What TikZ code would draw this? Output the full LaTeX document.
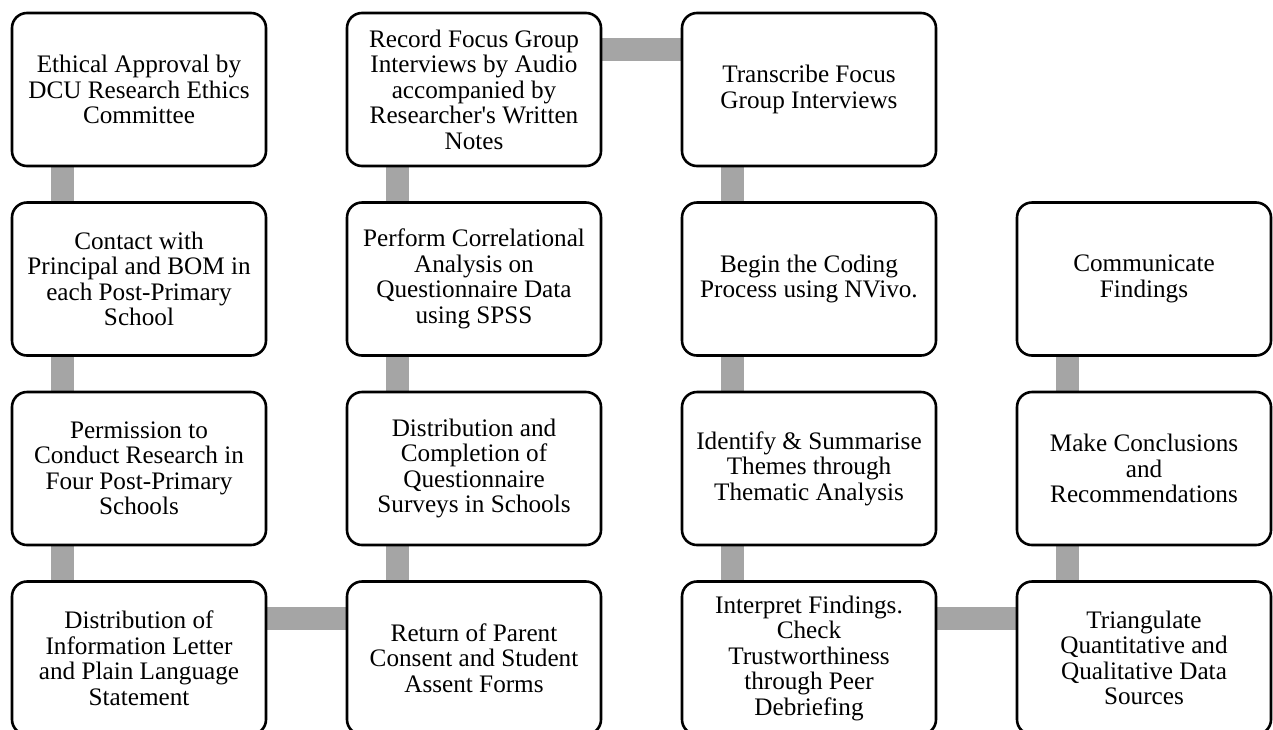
\documentclass[tikz,border=0pt]{standalone}
\usepackage{fontspec}
\setmainfont{Liberation Serif}
\usetikzlibrary{backgrounds}
\definecolor{linkgray}{HTML}{A5A5A5}
\tikzset{
  stepbox/.style={draw=black, line width=2.6pt, fill=white, rounded corners=15pt,
    minimum width=254pt, minimum height=153pt, inner sep=0pt, align=center,
    font=\fontsize{25.2}{25.5}\selectfont},
  link/.style={draw=linkgray, line width=23pt, line cap=butt}
}
\begin{document}
\begin{tikzpicture}[x=1pt, y=-1pt]
\useasboundingbox (0,0) rectangle (1273,729);
\clip (0,0) rectangle (1273,729);

% column 1
\node[stepbox] (a1) at (139,89.5) {Ethical Approval by\\DCU Research Ethics\\Committee};
\node[stepbox] (a2) at (139,279) {Contact with\\Principal and BOM in\\each Post-Primary\\School};
\node[stepbox] (a3) at (139,468.5) {Permission to\\Conduct Research in\\Four Post-Primary\\Schools};
\node[stepbox] (a4) at (139,658) {Distribution of\\Information Letter\\and Plain Language\\Statement};

% column 2
\node[stepbox] (b1) at (474,89.5) {Record Focus Group\\Interviews by Audio\\accompanied by\\Researcher\textquotesingle s Written\\Notes};
\node[stepbox] (b2) at (474,279) {Perform Correlational\\Analysis on\\Questionnaire Data\\using SPSS};
\node[stepbox] (b3) at (474,468.5) {Distribution and\\Completion of\\Questionnaire\\Surveys in Schools};
\node[stepbox] (b4) at (474,658) {Return of Parent\\Consent and Student\\Assent Forms};

% column 3
\node[stepbox] (c1) at (809,89.5) {Transcribe Focus\\Group Interviews};
\node[stepbox] (c2) at (809,279) {Begin the Coding\\Process using NVivo.};
\node[stepbox] (c3) at (809,468.5) {Identify \& Summarise\\Themes through\\Thematic Analysis};
\node[stepbox] (c4) at (809,658) {Interpret Findings.\\Check\\Trustworthiness\\through Peer\\Debriefing};

% column 4
\node[stepbox] (d2) at (1144,279) {Communicate\\Findings};
\node[stepbox] (d3) at (1144,468.5) {Make Conclusions\\and\\Recommendations};
\node[stepbox] (d4) at (1144,658) {Triangulate\\Quantitative and\\Qualitative Data\\Sources};

\begin{scope}[on background layer]
  % vertical links, upper box first
  \foreach \u/\v in {a1/a2, a2/a3, a3/a4, b1/b2, b2/b3, b3/b4, c1/c2, c2/c3, c3/c4, d2/d3, d3/d4}
    \draw[link] ([xshift=51.5pt]\u.south west) -- ([xshift=51.5pt]\v.north west);
  % horizontal links
  \draw[link] ([yshift=-38pt]a4.north east) -- ([yshift=-38pt]b4.north west);
  \draw[link] ([yshift=-38pt]b1.north east) -- ([yshift=-38pt]c1.north west);
  \draw[link] ([yshift=-38pt]c4.north east) -- ([yshift=-38pt]d4.north west);
\end{scope}
\end{tikzpicture}
\end{document}
